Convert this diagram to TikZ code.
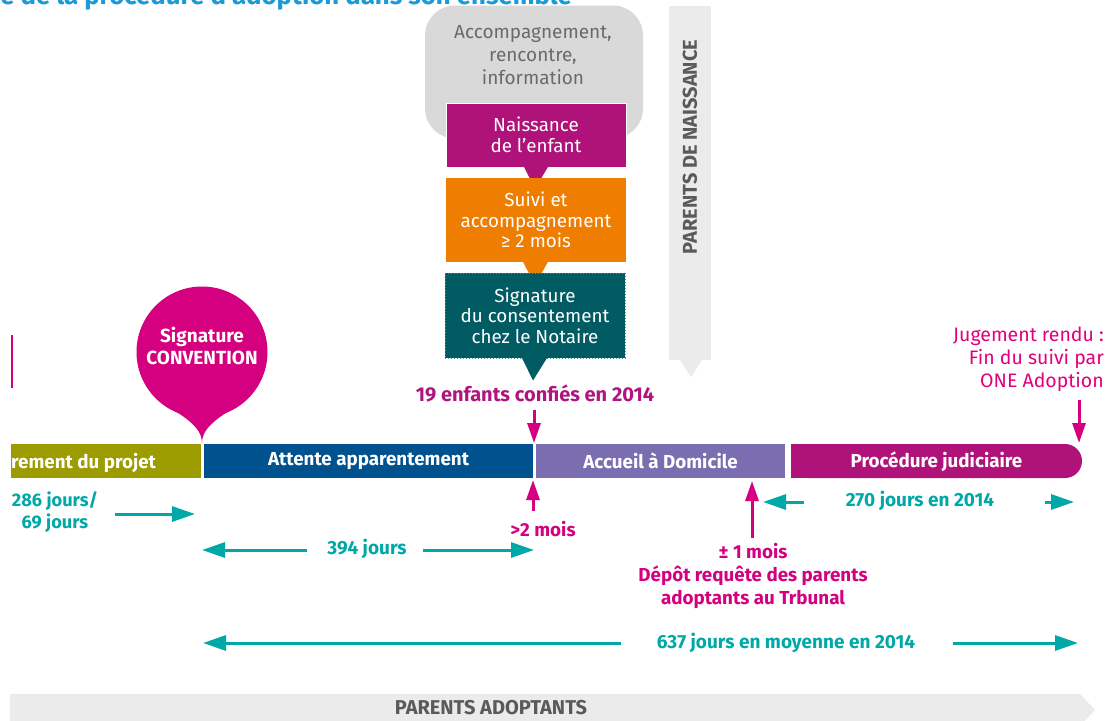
\documentclass[tikz,border=0pt]{standalone}
\usepackage{fontspec}
\setmainfont{Fira Sans}
\usetikzlibrary{arrows.meta,calc}
\definecolor{titlec}{HTML}{1A9AD6}
\definecolor{grayboxc}{HTML}{D9D9D9}
\definecolor{graytext}{HTML}{6A6A6A}
\definecolor{magbox}{HTML}{AF1279}
\definecolor{orangec}{HTML}{EF7D00}
\definecolor{tealdark}{HTML}{005B63}
\definecolor{tealdot}{HTML}{4A9AA0}
\definecolor{bandc}{HTML}{EBEBEB}
\definecolor{bandtext}{HTML}{5A5A5A}
\definecolor{magc}{HTML}{D4007F}
\definecolor{enfc}{HTML}{B0157F}
\definecolor{jugc}{HTML}{E2007E}
\definecolor{tealc}{HTML}{00A8A8}
\definecolor{olivec}{HTML}{9C9B00}
\definecolor{bluec}{HTML}{00528F}
\definecolor{purplec}{HTML}{7A6EB0}
\definecolor{procc}{HTML}{AF137A}
\definecolor{convc}{HTML}{D4007F}
\tikzset{
  barbox/.style={inner sep=0pt, minimum height=34pt, text=white, font=\fontsize{18.8}{20}\selectfont\bfseries},
  callout/.style={inner sep=0pt, text=white, align=center, font=\fontsize{18.8}{20.5}\selectfont},
  tealarrow/.style={draw=tealc, line width=3pt, -{Triangle[length=23pt,width=15pt]}},
  magarrow/.style={draw=magc, line width=3pt, -{Triangle[length=20pt,width=13pt]}},
  teallbl/.style={text=tealc, align=center, inner sep=1pt, font=\fontsize{19}{22}\selectfont\bfseries},
  maglbl/.style={text=magc, align=center, inner sep=1pt, font=\fontsize{18.8}{23}\selectfont\bfseries},
  bandlbl/.style={text=bandtext, inner sep=0pt, font=\fontsize{20}{22}\selectfont\bfseries}
}
\begin{document}
\begin{tikzpicture}[x=1pt,y=-1pt]
\useasboundingbox (0,0) rectangle (1107,720);
\fill[white] (0,0) rectangle (1107,720);

% title (cut at top, as in the reference)
\node[anchor=base east, inner sep=0pt, text=titlec, font=\fontsize{25.8}{28}\selectfont\bfseries] (title) at (572,5) {e de la procédure d’adoption dans son ensemble};

% grey info box
\node[fill=grayboxc, rounded corners=30pt, minimum width=218pt, minimum height=133pt, inner sep=0pt] (info) at (534,72) {};
\node[text=graytext, align=center, inner sep=0pt, font=\fontsize{19}{23}\selectfont] (infotxt) at (533,55) {Accompagnement,\\rencontre,\\information};

% callouts
\node[callout, fill=magbox, draw=white, line width=1pt, minimum width=180pt, minimum height=64pt] (naiss) at (536,135) {Naissance\\de l’enfant};
\fill[magbox] ($(naiss.south)+(-12,-0.5)$) -- ($(naiss.south)+(12,-0.5)$) -- ($(naiss.south)+(-1,21)$) -- cycle;

\node[callout, fill=orangec, minimum width=180pt, minimum height=84pt] (suivi) at (536,220) {Suivi et\\accompagnement\\≥ 2 mois};
\fill[orangec] ($(suivi.south)+(-13,-0.5)$) -- ($(suivi.south)+(12,-0.5)$) -- ($(suivi.south)+(-1,23)$) -- cycle;

\node[callout, fill=tealdark, draw=tealdot, dotted, line width=1pt, minimum width=180pt, minimum height=85pt] (notaire) at (535,315.5) {Signature\\du consentement\\chez le Notaire};
\fill[tealdark] ($(notaire.south)+(-13,-0.5)$) -- ($(notaire.south)+(12,-0.5)$) -- ($(notaire.south)+(-2,22)$) -- cycle;

% band parents de naissance
\fill[bandc] (669,6) rectangle (711,360);
\fill[bandc] (680,360) -- (702,360) -- (691,377) -- cycle;
\node[bandlbl, rotate=90] (pdn) at (690,147) {PARENTS DE NAISSANCE};

% left magenta fragment
\draw[magc, line width=2pt] (12,335) -- (12,388);

% signature convention drop
\fill[convc] (202,352) circle (65.5pt);
\fill[convc] (152,394) .. controls (172,412) and (202,422) .. (202,443) .. controls (202,422) and (232,412) .. (252,394) -- (202,352) -- cycle;
\node[text=white, align=center, inner sep=0pt, font=\fontsize{19}{22}\selectfont\bfseries] (conv) at (202,346) {Signature\\CONVENTION};

% timeline bars
\fill[olivec] (11,444) rectangle (201,478);
\node[barbox, anchor=west] (proj) at (11,463) {rement du projet};
\node[barbox, fill=bluec, minimum width=329pt] (attente) at (368.5,461) {Attente apparentement};
\node[barbox, fill=purplec, minimum width=249pt] (accueil) at (660.5,461) {Accueil à Domicile};
\fill[procc, rounded corners=17pt] (791,444) rectangle (1082,478);
\fill[procc] (791,444) rectangle (830,478);
\node[barbox] (proc) at (936.5,462) {Procédure judiciaire};

% 19 enfants
\node[maglbl, text=enfc, font=\fontsize{20}{23}\selectfont\bfseries] (enf) at (535,393) {19 enfants confiés en 2014};
\coordinate (enfs) at (534,410);
\coordinate (enfe) at (534,443);
\draw[magarrow] (enfs) -- (enfe);

% >2 mois
\node[maglbl] (m2) at (543,529) {>2 mois};
\coordinate (m2s) at (533,511);
\coordinate (m2e) at (533,480);
\draw[magarrow] (m2s) -- (m2e);

% depot requete
\node[maglbl] (depot) at (753,576) {± 1 mois\\Dépôt requête des parents\\adoptants au Trbunal};
\coordinate (deps) at (752,538);
\coordinate (depe) at (752,481);
\draw[magarrow] (deps) -- (depe);

% jugement
\node[text=jugc, align=right, anchor=east, inner sep=0pt, font=\fontsize{19.5}{23}\selectfont] (jug) at (1104,359) {Jugement rendu :\\Fin du suivi par\\ONE Adoption};
\coordinate (jugs) at (1079,400);
\coordinate (juge) at (1079,443);
\draw[magarrow] (jugs) -- (juge);

% 286 jours
\node[teallbl, font=\fontsize{18.2}{22}\selectfont\bfseries] (j286) at (55,512) {286 jours/\\69 jours};
\coordinate (a286s) at (115,514);
\coordinate (a286e) at (195,514);
\draw[tealarrow] (a286s) -- (a286e);

% 394 jours
\node[teallbl] (j394) at (367,549) {394 jours};
\coordinate (a394l1) at (307,550);
\coordinate (a394l2) at (202,550);
\coordinate (a394r1) at (423,550);
\coordinate (a394r2) at (534,550);
\draw[tealarrow] (a394l1) -- (a394l2);
\draw[tealarrow] (a394r1) -- (a394r2);

% 270 jours
\node[teallbl] (j270) at (920,501) {270 jours en 2014};
\coordinate (a270l1) at (804,502);
\coordinate (a270l2) at (763,502);
\coordinate (a270r1) at (1045,502);
\coordinate (a270r2) at (1074,502);
\draw[tealarrow] (a270l1) -- (a270l2);
\draw[tealarrow] (a270r1) -- (a270r2);

% 637 jours
\node[teallbl] (j637) at (786,643) {637 jours en moyenne en 2014};
\coordinate (a637l1) at (621,643);
\coordinate (a637l2) at (203,643);
\coordinate (a637r1) at (953,643);
\coordinate (a637r2) at (1078,643);
\draw[tealarrow] (a637l1) -- (a637l2);
\draw[tealarrow] (a637r1) -- (a637r2);

% band parents adoptants
\fill[bandc] (10,694) -- (1080,694) -- (1095,710) -- (1080,726) -- (10,726) -- cycle;
\node[bandlbl] (pad) at (491,708) {PARENTS ADOPTANTS};
\end{tikzpicture}
\end{document}
